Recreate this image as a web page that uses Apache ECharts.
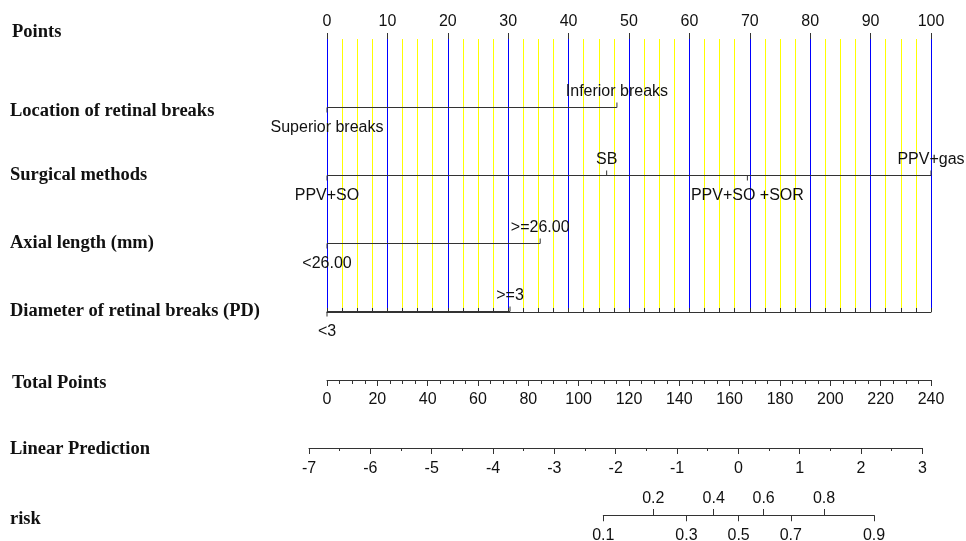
<!DOCTYPE html>
<html>
<head>
<meta charset="UTF-8" />
<title>Nomogram</title>
<script src="https://cdn.jsdelivr.net/npm/echarts@6/dist/echarts.min.js"></script>
<style>
  body { margin: 0; background: #fff; }
  #main { width: 966px; height: 541px; }
</style>
</head>
<body>
<div id="main"></div>
<script>
  // row names, top to bottom
  const rowNames = ['Points', 'Location of retinal breaks', 'Surgical methods', 'Axial length (mm)',
    'Diameter of retinal breaks (PD)', 'Total Points', 'Linear Prediction', 'risk'];

  // levels and their points
  const locationLevels = ['Superior breaks', 'Inferior breaks'];
  const locationPoints = [0, 48];
  const surgeryLevels = ['PPV+SO', 'SB', 'PPV+SO +SOR', 'PPV+gas'];
  const surgeryPoints = [0, 46.3, 69.6, 100];
  const axialLevels = ['<26.00', '>=26.00'];
  const axialPoints = [0, 35.3];
  const diameterLevels = ['<3', '>=3'];
  const diameterPoints = [0, 30.3];

  // scales
  const pointsRange = [0, 100];
  const totalRange = [0, 240];
  const lpRange = [-7, 3];
  const riskTop = [0.2, 0.4, 0.6, 0.8];
  const riskBottom = [0.1, 0.3, 0.5, 0.7, 0.9];

  const logit = p => Math.log(p / (1 - p));
  const invLogit = v => (1 / (1 + Math.exp(-v))).toFixed(1);

  const variables = [
    { row: rowNames[1], levels: locationLevels, points: locationPoints },
    { row: rowNames[2], levels: surgeryLevels, points: surgeryPoints },
    { row: rowNames[3], levels: axialLevels, points: axialPoints },
    { row: rowNames[4], levels: diameterLevels, points: diameterPoints }
  ];

  const ink = '#333';
  const numFont = { fontFamily: 'Liberation Sans', fontSize: 16, color: '#111' };

  let series = [];
  let above = [], below = [];
  variables.forEach(v => {
    series.push({
      type: 'line', xAxisIndex: 0, yAxisIndex: 0, symbol: 'none',
      lineStyle: { color: ink, width: 1 },
      data: [[Math.min(...v.points), v.row], [Math.max(...v.points), v.row]]
    });
    v.levels.forEach((name, i) => {
      let item = { name: name, value: [v.points[i], v.row] };
      if (i % 2 === 0) below.push(item); else above.push(item);
    });
  });
  const levelLabel = { show: true, formatter: '{b}', opacity: 1, ...numFont };
  series.push({
    type: 'scatter', xAxisIndex: 0, yAxisIndex: 0, symbol: 'rect', symbolSize: [1, 5],
    symbolOffset: [0, -2.5], itemStyle: { color: ink, opacity: 1 }, data: above,
    label: { ...levelLabel, position: 'top', distance: 3 }
  });
  series.push({
    type: 'scatter', xAxisIndex: 0, yAxisIndex: 0, symbol: 'rect', symbolSize: [1, 5],
    symbolOffset: [0, 2.5], itemStyle: { color: ink, opacity: 1 }, data: below,
    label: { ...levelLabel, position: 'bottom', distance: 7 }
  });

  const hiddenY = i => ({ type: 'value', gridIndex: i, show: false });
  const line = { show: true, lineStyle: { color: ink, width: 1 } };
  // small vertical nudges for some row labels
  const rowShift = { 0: 'up', 1: 'dn', 5: 'dn2', 6: 'dn3', 7: 'dn' };
  const rowFont = { fontFamily: 'Liberation Serif', fontWeight: 'bold', fontSize: 18.5, color: '#111' };

  const chart = echarts.init(document.getElementById('main'));
  chart.setOption({
    animation: false,
    grid: [
      { left: 327, width: 604, top: 39.5, height: 476 },
      { left: 327, width: 604, top: 39, height: 273 },
      { left: 327, width: 604, top: 379, height: 1 },
      { left: 309, width: 613.4, top: 447, height: 1 },
      { left: 603.3, width: 270.7, top: 515, height: 1 }
    ],
    xAxis: [
      { type: 'value', gridIndex: 0, show: false, min: pointsRange[0], max: pointsRange[1] },
      {
        type: 'value', gridIndex: 1, position: 'top', min: pointsRange[0], max: pointsRange[1], interval: 2.5,
        axisLine: line,
        axisTick: { show: true, length: 4, lineStyle: { color: ink } },
        axisLabel: { show: false },
        splitLine: { show: true, lineStyle: { color: ['#0000ff', '#ffff00', '#ffff00', '#ffff00'], width: 1 } }
      },
      {
        type: 'value', gridIndex: 1, position: 'top', min: pointsRange[0], max: pointsRange[1], interval: 10,
        axisLine: { show: false },
        axisTick: { show: true, length: 6, lineStyle: { color: ink } },
        axisLabel: { margin: 9, ...numFont },
        splitLine: { show: false }
      },
      {
        type: 'value', gridIndex: 2, position: 'bottom', min: totalRange[0], max: totalRange[1], interval: 20,
        axisLine: line,
        axisTick: { show: true, length: 6, lineStyle: { color: ink } },
        minorTick: { show: true, splitNumber: 4, length: 4, lineStyle: { color: ink } },
        axisLabel: { margin: 12, ...numFont },
        splitLine: { show: false }
      },
      {
        type: 'value', gridIndex: 3, position: 'bottom', min: lpRange[0], max: lpRange[1], interval: 1,
        axisLine: line,
        axisTick: { show: true, length: 6, lineStyle: { color: ink } },
        minorTick: { show: true, splitNumber: 2, length: 3, lineStyle: { color: ink } },
        axisLabel: { margin: 13, ...numFont },
        splitLine: { show: false }
      },
      {
        type: 'value', gridIndex: 4, position: 'bottom',
        min: logit(riskBottom[0]), max: logit(riskBottom[riskBottom.length - 1]),
        axisLine: line,
        axisTick: { show: true, length: 6, lineStyle: { color: ink }, customValues: riskBottom.map(logit) },
        axisLabel: { margin: 12, ...numFont, customValues: riskBottom.map(logit), formatter: invLogit },
        splitLine: { show: false }
      },
      {
        type: 'value', gridIndex: 4, position: 'top',
        min: logit(riskBottom[0]), max: logit(riskBottom[riskBottom.length - 1]),
        axisLine: { show: false },
        axisTick: { show: true, length: 6, lineStyle: { color: ink }, customValues: riskTop.map(logit) },
        axisLabel: { margin: 8, ...numFont, customValues: riskTop.map(logit), formatter: invLogit },
        splitLine: { show: false }
      }
    ],
    yAxis: [
      {
        type: 'category', gridIndex: 0, data: rowNames, inverse: true, boundaryGap: false,
        axisLine: { show: false }, axisTick: { show: false }, splitLine: { show: false },
        axisLabel: {
          align: 'left', margin: 317, ...rowFont,
          formatter: (v, i) => rowShift[i] ? '{' + rowShift[i] + '|' + v + '}' : v,
          rich: {
            up: { ...rowFont, padding: [0, 0, 14, 2] },
            dn: { ...rowFont, padding: [7, 0, 0, 0] },
            dn2: { ...rowFont, padding: [7, 0, 0, 2] },
            dn3: { ...rowFont, padding: [4, 0, 0, 0] }
          }
        }
      },
      hiddenY(1), hiddenY(2), hiddenY(3), hiddenY(4)
    ],
    series: series
  });
</script>
</body>
</html>
